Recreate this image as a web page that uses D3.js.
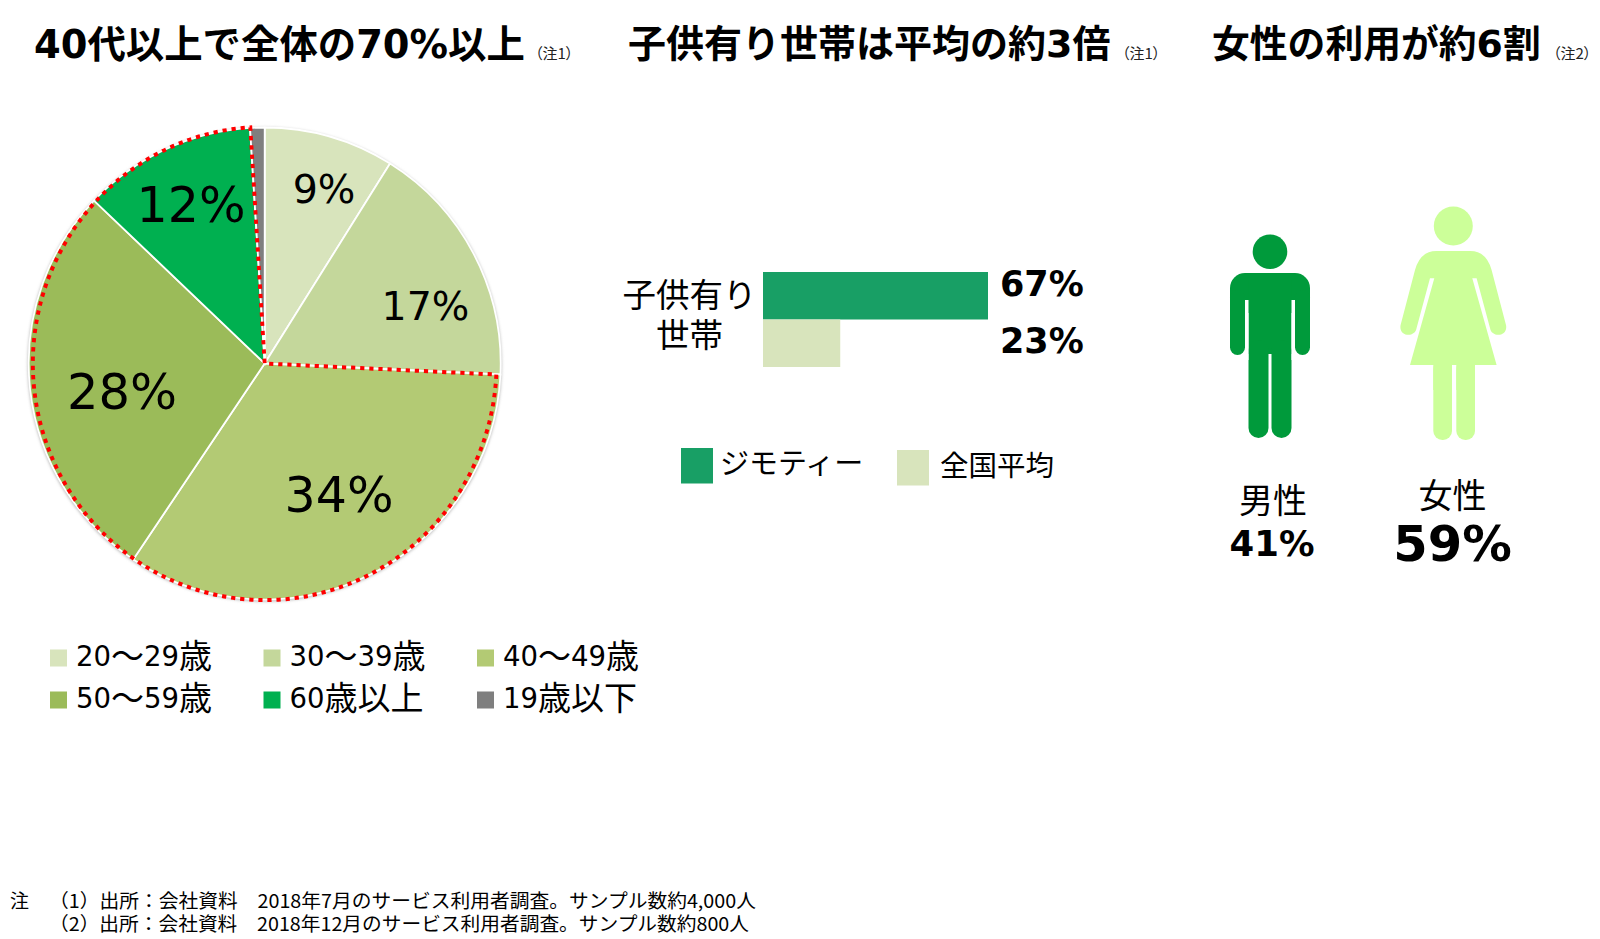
<!DOCTYPE html>
<html>
<head>
<meta charset="utf-8">
<script src="https://cdn.jsdelivr.net/npm/d3@7"></script>
<style>
  html, body { margin: 0; background: #fff; }
  svg { display: block; }
  text { font-family: "DejaVu Sans", "Noto Sans CJK JP", sans-serif; fill: #000; }
</style>
</head>
<body>
<svg id="chart" width="1600" height="939"></svg>
<script>
// Age split (pie)
const ageLabels = ['20～29歳', '30～39歳', '40～49歳', '50～59歳', '60歳以上', '19歳以下'];
const ageValues = [9, 17, 34, 28, 12, 1];
const ageColors = ['#d8e4bc', '#c4d79b', '#b3ca74', '#9bbb59', '#00b050', '#7f7f7f'];

// Households with children (bars)
const barSeries = ['ジモティー', '全国平均'];
const barValues = [67, 23];
const barColors = ['#189f65', '#d8e4bc'];

// Gender split (icons)
const genderLabels = ['男性', '女性'];
const genderValues = [41, 59];
const genderColors = ['#009a3b', '#ccff99'];

const titles = ['40代以上で全体の70%以上', '子供有り世帯は平均の約3倍', '女性の利用が約6割'];
const titleNotes = ['（注1）', '（注1）', '（注2）'];
const footNotes = [
  '（1）出所：会社資料　2018年7月のサービス利用者調査。サンプル数約4,000人',
  '（2）出所：会社資料　2018年12月のサービス利用者調査。サンプル数約800人'
];

const svg = d3.select('#chart');

function label(x, y, str, size, opts = {}) {
  return svg.append('text')
    .attr('x', x).attr('y', y)
    .attr('dominant-baseline', 'central')
    .attr('text-anchor', opts.anchor || 'start')
    .attr('font-size', size)
    .attr('font-weight', opts.bold ? 'bold' : 'normal')
    .text(str);
}

// Titles
const titleX = [34, 628, 1212];
const titleSize = [38.4, 38, 37.8];
const noteX = [535, 1122, 1553];
titles.forEach((t, i) => {
  label(titleX[i], 44, t, titleSize[i], { bold: true });
  label(noteX[i], 52, titleNotes[i], 15)
    .style('font-family', '"Noto Sans CJK JP"')
    .style('font-feature-settings', '"palt"')
    .style('fill', '#222');
});

// A) Pie
const cx = 264.7, cy = 363.5, radius = 236;
const defs = svg.append('defs');
defs.append('filter').attr('id', 'soft')
  .attr('x', '-5%').attr('y', '-5%').attr('width', '110%').attr('height', '110%')
  .append('feGaussianBlur').attr('stdDeviation', 1.5);

const pieG = svg.append('g').attr('transform', `translate(${cx},${cy})`);
pieG.append('circle').attr('r', radius + 1).attr('cy', 1).attr('fill', '#bbb').attr('filter', 'url(#soft)');

const arcs = d3.pie().sort(null)(ageValues);
const arc = d3.arc().innerRadius(0).outerRadius(radius);
pieG.selectAll('path.slice')
  .data(arcs)
  .join('path')
  .attr('class', 'slice')
  .attr('d', arc)
  .attr('fill', (d, i) => ageColors[i])
  .attr('stroke', '#fff')
  .attr('stroke-width', 1.8);

// Red dotted outline round the 40+ slices (slightly squeezed, as in the original)
pieG.append('path')
  .attr('transform', 'scale(0.98,1)')
  .attr('d', d3.arc().innerRadius(0).outerRadius(radius + 0.6)({
    startAngle: arcs[2].startAngle,
    endAngle: arcs[4].endAngle
  }))
  .attr('fill', 'none')
  .attr('stroke', '#f00')
  .attr('stroke-width', 4)
  .attr('stroke-dasharray', '4.3 5');

const pieLabelX = [324, 425.5, 339, 122, 191];
const pieLabelY = [188.5, 305.5, 495, 391.5, 205];
const pieLabelSize = [39.5, 39.5, 49, 49.5, 49];
ageValues.slice(0, 5).forEach((v, i) => {
  label(pieLabelX[i], pieLabelY[i], `${v}%`, pieLabelSize[i], { anchor: 'middle' });
});

// Pie legend: digits run smaller than the kanji in the original
const legendX = d3.scalePoint().domain([0, 1, 2]).range([50, 477]);
const legendY = d3.scalePoint().domain([0, 1]).range([658, 700]);
ageLabels.forEach((name, i) => {
  const lx = legendX(i % 3), ly = legendY(Math.floor(i / 3));
  svg.append('rect').attr('x', lx).attr('y', ly - 8.5).attr('width', 17).attr('height', 17).attr('fill', ageColors[i]);
  const t = label(lx + 26, ly - 2.5, '', 33);
  name.match(/\d+|\D+/g).forEach(part => {
    t.append('tspan').attr('font-size', /\d/.test(part) ? 27.5 : 33).text(part);
  });
});

// B) Bars
const xBar = d3.scaleLinear().domain([0, 67]).range([763, 988]);
const yBar = d3.scaleBand().domain(barSeries).range([272, 367]).padding(0);
barSeries.forEach((s, i) => {
  svg.append('rect')
    .attr('x', xBar(0)).attr('y', yBar(s))
    .attr('width', xBar(barValues[i]) - xBar(0)).attr('height', yBar.bandwidth())
    .attr('fill', barColors[i]);
});
label(1000, 284, `${barValues[0]}%`, 35, { bold: true });
label(1000, 341, `${barValues[1]}%`, 35, { bold: true });
label(689.5, 295, '子供有り', 33.5, { anchor: 'middle' });
label(689.5, 335, '世帯', 33.5, { anchor: 'middle' });

const barLegX = [681, 897], barLegY = [448, 450], barTextX = [720, 940], barTextY = [464, 466];
const barTextSize = [29, 28.5];
barSeries.forEach((s, i) => {
  svg.append('rect').attr('x', barLegX[i]).attr('y', barLegY[i]).attr('width', 32).attr('height', 35.5).attr('fill', barColors[i]);
  label(barTextX[i], barTextY[i], s, barTextSize[i]);
});

// C) Gender icons
function drawMan(x, color) {
  const g = svg.append('g').attr('fill', color).attr('transform', `translate(${x},0)`);
  g.append('circle').attr('cy', 251.7).attr('r', 17.3);
  g.append('rect').attr('x', -40).attr('y', 273).attr('width', 80).attr('height', 40).attr('rx', 15);
  g.append('rect').attr('x', -40).attr('y', 290).attr('width', 15).attr('height', 65).attr('rx', 7.5);
  g.append('rect').attr('x', 25).attr('y', 290).attr('width', 15).attr('height', 65).attr('rx', 7.5);
  g.append('rect').attr('x', -21.5).attr('y', 280).attr('width', 43).attr('height', 74);
  g.append('rect').attr('x', -21.5).attr('y', 340).attr('width', 20).attr('height', 98).attr('rx', 10);
  g.append('rect').attr('x', 1.5).attr('y', 340).attr('width', 20).attr('height', 98).attr('rx', 10);
  // arm gaps
  g.append('rect').attr('x', -25).attr('y', 300).attr('width', 3.5).attr('height', 60).attr('fill', '#fff');
  g.append('rect').attr('x', 21.5).attr('y', 300).attr('width', 3.5).attr('height', 60).attr('fill', '#fff');
}

function drawWoman(x, color) {
  const g = svg.append('g').attr('fill', color).attr('transform', `translate(${x},0)`);
  g.append('circle').attr('cy', 226).attr('r', 19.5);
  const p = d3.path();
  p.moveTo(-17, 251);
  p.quadraticCurveTo(-33, 251, -38.3, 270);
  p.lineTo(-52.7, 325);
  p.bezierCurveTo(-55, 337, -38, 338, -36.7, 328);
  p.lineTo(-23.3, 278.3);
  p.lineTo(-19, 278.3);
  p.lineTo(-43.3, 365);
  p.lineTo(43.3, 365);
  p.lineTo(19, 278.3);
  p.lineTo(23.3, 278.3);
  p.lineTo(36.7, 328);
  p.bezierCurveTo(38, 338, 55, 337, 52.7, 325);
  p.lineTo(38.3, 270);
  p.quadraticCurveTo(33, 251, 17, 251);
  p.closePath();
  g.append('path').attr('d', p.toString());
  g.append('rect').attr('x', -20).attr('y', 360).attr('width', 18.7).attr('height', 80).attr('rx', 9);
  g.append('rect').attr('x', 3).attr('y', 360).attr('width', 18.7).attr('height', 80).attr('rx', 9);
  g.append('rect').attr('x', -20).attr('y', 360).attr('width', 18.7).attr('height', 30);
  g.append('rect').attr('x', 3).attr('y', 360).attr('width', 18.7).attr('height', 30);
}

drawMan(1270, genderColors[0]);
drawWoman(1453.3, genderColors[1]);

label(1273, 501, genderLabels[0], 34, { anchor: 'middle' });
label(1272, 543, `${genderValues[0]}%`, 35.5, { anchor: 'middle', bold: true });
label(1452.5, 496, genderLabels[1], 34, { anchor: 'middle' });
label(1452.5, 544, `${genderValues[1]}%`, 49.5, { anchor: 'middle', bold: true });

// Footnotes
label(10, 899, '注', 19).style('font-family', '"Noto Sans CJK JP"');
const footLen = [707, 700];
footNotes.forEach((t, i) => {
  label(49, 899 + i * 23, t, 19)
    .attr('textLength', footLen[i])
    .attr('lengthAdjust', 'spacingAndGlyphs')
    .style('font-family', '"Noto Sans CJK JP"');
});
</script>
</body>
</html>
